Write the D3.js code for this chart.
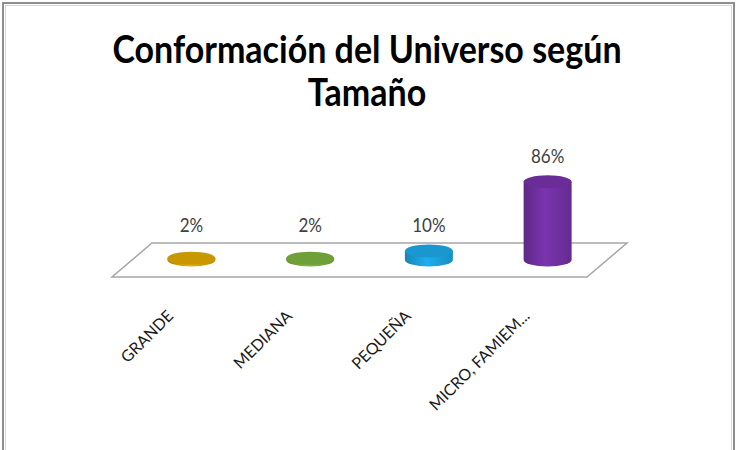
<!DOCTYPE html>
<html>
<head>
<meta charset="utf-8">
<script src="https://cdn.jsdelivr.net/npm/d3@7"></script>
<style>
  body { margin: 0; background: #fff; }
  svg { display: block; }
</style>
</head>
<body>
<svg></svg>
<script>
// data
var categories = ["GRANDE", "MEDIANA", "PEQUEÑA", "MICRO, FAMIEM..."];
var values = [2, 2, 10, 86];
var labels = ["2%", "2%", "10%", "86%"];
var colors = ["#d4a000", "#74a83c", "#1b9fd9", "#7030a0"];
var titleLines = ["Conformación del Universo según", "Tamaño"];

var width = 738, height = 450;
var svg = d3.select("svg").attr("width", width).attr("height", height);

// outer frame
svg.append("rect").attr("x", 3).attr("y", 3).attr("width", 731).attr("height", 470)
  .attr("fill", "#fff").attr("stroke", "#8e8e8e").attr("stroke-width", 2);
svg.append("rect").attr("x", 5.5).attr("y", 5.5).attr("width", 726).attr("height", 470)
  .attr("fill", "none").attr("stroke", "#d8d8d8").attr("stroke-width", 1);

// title (picture is a bit stretched vertically)
svg.append("g").selectAll("text").data(titleLines).enter().append("text")
  .attr("transform", function (d, i) { return "translate(367," + (63 + i * 43) + ") scale(1,1.1)"; })
  .attr("text-anchor", "middle")
  .style("font-family", "Lato, 'Open Sans', sans-serif")
  .style("font-weight", "bold").style("font-size", "34px").style("fill", "#000")
  .text(function (d) { return d; });

// floor geometry
var frontY = 277, backY = 243, depthX = 40;
var x = d3.scaleBand().domain(categories).range([112, 587]).padding(0);
var h = d3.scaleLinear().domain([0, 100]).range([0, 91]);
var baseY = (frontY + backY) / 2;

var floor = [[112, frontY], [587, frontY], [587 + depthX, backY], [112 + depthX, backY]];
svg.append("path").attr("d", d3.line()(floor) + "Z")
  .attr("fill", "#fff").attr("stroke", "#a6a6a6").attr("stroke-width", 1.5);

// gradients for cylinder sides
var defs = svg.append("defs");
colors.forEach(function (c, i) {
  var g = defs.append("linearGradient").attr("id", "side" + i)
    .attr("x1", "0%").attr("x2", "100%").attr("y1", "0%").attr("y2", "0%");
  var col = d3.color(c);
  g.append("stop").attr("offset", "0%").attr("stop-color", col.darker(0.5));
  g.append("stop").attr("offset", "45%").attr("stop-color", col.brighter(0.25));
  g.append("stop").attr("offset", "100%").attr("stop-color", col.darker(0.3));
});

var rx = 24, ry = 6.5;
var bars = svg.append("g").selectAll("g").data(values).enter().append("g");

bars.each(function (v, i) {
  var g = d3.select(this);
  var cx = x(categories[i]) + x.bandwidth() / 2 + depthX / 2;
  var top = baseY - h(v);
  // side
  g.append("path")
    .attr("d", "M" + (cx - rx) + "," + top +
      " L" + (cx - rx) + "," + baseY +
      " A" + rx + "," + ry + " 0 0 0 " + (cx + rx) + "," + baseY +
      " L" + (cx + rx) + "," + top + " Z")
    .attr("fill", "url(#side" + i + ")");
  // top
  g.append("ellipse").attr("cx", cx).attr("cy", top).attr("rx", rx).attr("ry", ry)
    .attr("fill", d3.color(colors[i]).darker(0.15));
  // value label
  var ly = Math.min(top - 19, baseY - 28);
  g.append("text").attr("transform", "translate(" + cx + "," + ly + ") scale(1,1.1)")
    .attr("text-anchor", "middle")
    .style("font-family", "Lato, 'Open Sans', sans-serif")
    .style("font-size", "17px").style("fill", "#404040")
    .text(labels[i]);
});

// category labels, rotated
svg.append("g").selectAll("text").data(categories).enter().append("text")
  .attr("transform", function (d) {
    return "translate(" + (x(d) + x.bandwidth() / 2 + 3) + ",317) rotate(-45)";
  })
  .attr("text-anchor", "end")
  .style("font-family", "Lato, 'Open Sans', sans-serif")
  .style("font-size", "16px").style("fill", "#1a1a1a")
  .text(function (d) { return d; });
</script>
</body>
</html>
